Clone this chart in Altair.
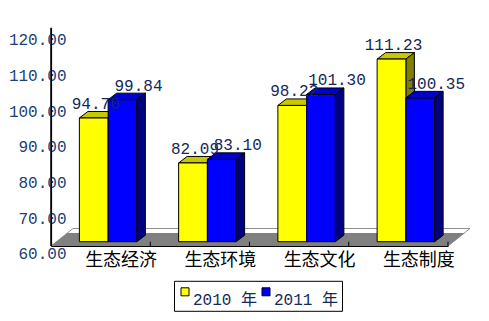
import altair as alt
import pandas as pd

# ---- data ----
categories = ["生态经济", "生态环境", "生态文化", "生态制度"]
series = ["2010 年", "2011 年"]
values_2010 = [94.70, 82.09, 98.22, 111.23]
values_2011 = [99.84, 83.10, 101.30, 100.35]
y_ticks = [60, 70, 80, 90, 100, 110, 120]

# ---- styling / geometry constants ----
Y_BASE = 60
Y_TOP = 120
W = 397
PX_Y = 3.565                      # pixels per y unit
Y_MIN = Y_BASE - 4.3 / PX_Y       # floor front edge lies a little below the bar bases
H = (Y_TOP - Y_MIN) * PX_Y
N = len(categories)
PX_X = W / N
BAR_W = 28.75 / PX_X
SHIFT = 7.5 / PX_X
DX = 8.5 / PX_X                   # 3-D depth of bars
DY = 6.5 / PX_Y
FLOOR_DX = 22 / PX_X
FLOOR_DY = 17.5 / PX_Y

FRONT = ["#FFFF00", "#0000FF"]
TOP = ["#C8C800", "#0000CC"]
SIDE = ["#808000", "#000080"]
TXT = "#14285a"
AXT = "#1c3f78"
NUM_FONT = "Liberation Mono"
CJK_FONT = "Noto Sans CJK SC"

xscale = alt.Scale(domain=[0, N], nice=False, zero=False)
yscale = alt.Scale(domain=[Y_MIN, Y_TOP], nice=False, zero=False)

label_expr = "[" + ",".join(f"'{c}'" for c in categories) + "][floor(datum.value)]"
AX = alt.Axis(values=[i + 0.5 for i in range(N)], labelExpr=label_expr,
              ticks=False, labelOffset=20, labelPadding=5,
              labelFont=CJK_FONT, labelFontSize=18, labelColor="black",
              domainColor="black", domainWidth=1, grid=False, zindex=1)
AY = alt.Axis(values=y_ticks, format=".2f", ticks=False,
              labelPadding=-15, labelOffset=12, labelFont=NUM_FONT,
              labelFontSize=16, labelColor=AXT, domainColor="black",
              domainWidth=1.2, grid=False, zindex=1)


def X(f):
    return alt.X(f, scale=xscale, axis=AX, title=None)


def Y(f):
    return alt.Y(f, scale=yscale, axis=AY, title=None)


# ---- build tables ----
fronts, tops, sides = [], [], []
for s_idx, (s, vals) in enumerate(zip(series, [values_2010, values_2011])):
    for i, v in enumerate(vals):
        x0 = i + 0.5 + SHIFT - BAR_W + s_idx * BAR_W
        x1 = x0 + BAR_W
        bid = f"{s_idx}-{i}"
        fronts.append(dict(series=s, sidx=s_idx, cat=categories[i], x0=x0, x1=x1,
                           xc=(x0 + x1) / 2, v=v, base=Y_BASE))
        tops.append(dict(id=bid, sidx=s_idx, y=v, xa=x0, xb=x1))
        tops.append(dict(id=bid, sidx=s_idx, y=v + DY, xa=x0 + DX, xb=x1 + DX))
        sides.append(dict(id=bid, sidx=s_idx, x=x1, ya=v, yb=Y_BASE))
        sides.append(dict(id=bid, sidx=s_idx, x=x1 + DX, ya=v + DY, yb=Y_BASE + DY))
fronts = pd.DataFrame(fronts)
tops = pd.DataFrame(tops)
sides = pd.DataFrame(sides)

floor_full = pd.DataFrame([
    dict(y=Y_MIN, xa=0, xb=N),
    dict(y=Y_MIN + FLOOR_DY, xa=FLOOR_DX, xb=N + FLOOR_DX),
])
g = 0.75
floor_grey = pd.DataFrame([
    dict(y=Y_MIN, xa=0, xb=N),
    dict(y=Y_MIN + g * FLOOR_DY, xa=g * FLOOR_DX, xb=N + g * FLOOR_DX),
])
ticks = pd.DataFrame(dict(x=list(range(1, N + 1)), y=Y_MIN, y2=Y_BASE))
axis_lines = pd.DataFrame([dict(x=0, x2=0, y=Y_MIN, y2=Y_TOP)])

# ---- layers ----
floor1 = alt.Chart(floor_full).mark_area(
    orient="horizontal", fill="white", stroke="#909090", strokeWidth=1
).encode(y=Y("y:Q"), x=X("xa:Q"), x2="xb:Q")
floor2 = alt.Chart(floor_grey).mark_area(
    orient="horizontal", fill="#808080", strokeWidth=0
).encode(y=Y("y:Q"), x=X("xa:Q"), x2="xb:Q")


def faces(sidx):
    t = alt.Chart(tops[tops.sidx == sidx]).mark_area(
        orient="horizontal", fill=TOP[sidx], stroke="black", strokeWidth=1
    ).encode(y=Y("y:Q"), x=X("xa:Q"), x2="xb:Q", detail="id:N")
    sd = alt.Chart(sides[sides.sidx == sidx]).mark_area(
        orient="vertical", fill=SIDE[sidx], stroke="black", strokeWidth=1
    ).encode(x=X("x:Q"), y=Y("ya:Q"), y2="yb:Q", detail="id:N")
    return [t, sd]


front = alt.Chart(fronts).mark_rect(stroke="black", strokeWidth=1).encode(
    x=X("x0:Q"),
    x2="x1:Q",
    y=Y("v:Q"),
    y2="base:Q",
    color=alt.Color(
        "series:N",
        scale=alt.Scale(domain=series, range=FRONT),
        legend=alt.Legend(
            title=None, orient="none", legendX=123, legendY=253,
            direction="horizontal", symbolType="square", symbolSize=64,
            symbolStrokeColor="black", symbolStrokeWidth=1,
            labelFont=f"{NUM_FONT}, {CJK_FONT}", labelFontSize=16,
            labelColor=TXT, labelBaseline="top", labelOffset=0,
            columnPadding=0, padding=3, strokeColor="black",
            fillColor="white", cornerRadius=0,
        ),
    ),
)

rules = alt.Chart(ticks).mark_rule(color="black", strokeWidth=1).encode(
    x=X("x:Q"), y=Y("y:Q"), y2="y2:Q",
)
y_line = alt.Chart(axis_lines).mark_rule(color="black", strokeWidth=1.5).encode(
    x=X("x:Q"), x2="x2:Q", y=Y("y:Q"), y2="y2:Q",
)


def labels(sidx, dx):
    return alt.Chart(fronts[fronts.sidx == sidx]).mark_text(
        font=NUM_FONT, fontSize=16, color=TXT, baseline="alphabetic",
        align="center", dx=dx, dy=-9,
    ).encode(
        x=X("xc:Q"),
        y=Y("v:Q"),
        text=alt.Text("v:Q", format=".2f"),
    )


layers = ([floor1, floor2, rules] + faces(0) + [front] + faces(1)
          + [labels(0, 2), labels(1, 16), y_line])

chart = alt.layer(*layers).properties(
    width=W,
    height=H,
    padding={"left": 51, "top": 27.8, "right": 489 - 51 - W, "bottom": 321 - 27.8 - H},
    autosize=alt.AutoSizeParams(type="none"),
    background="white",
).configure_view(stroke=None)

chart.save("out.html", embed_options={"renderer": "svg", "actions": False})
